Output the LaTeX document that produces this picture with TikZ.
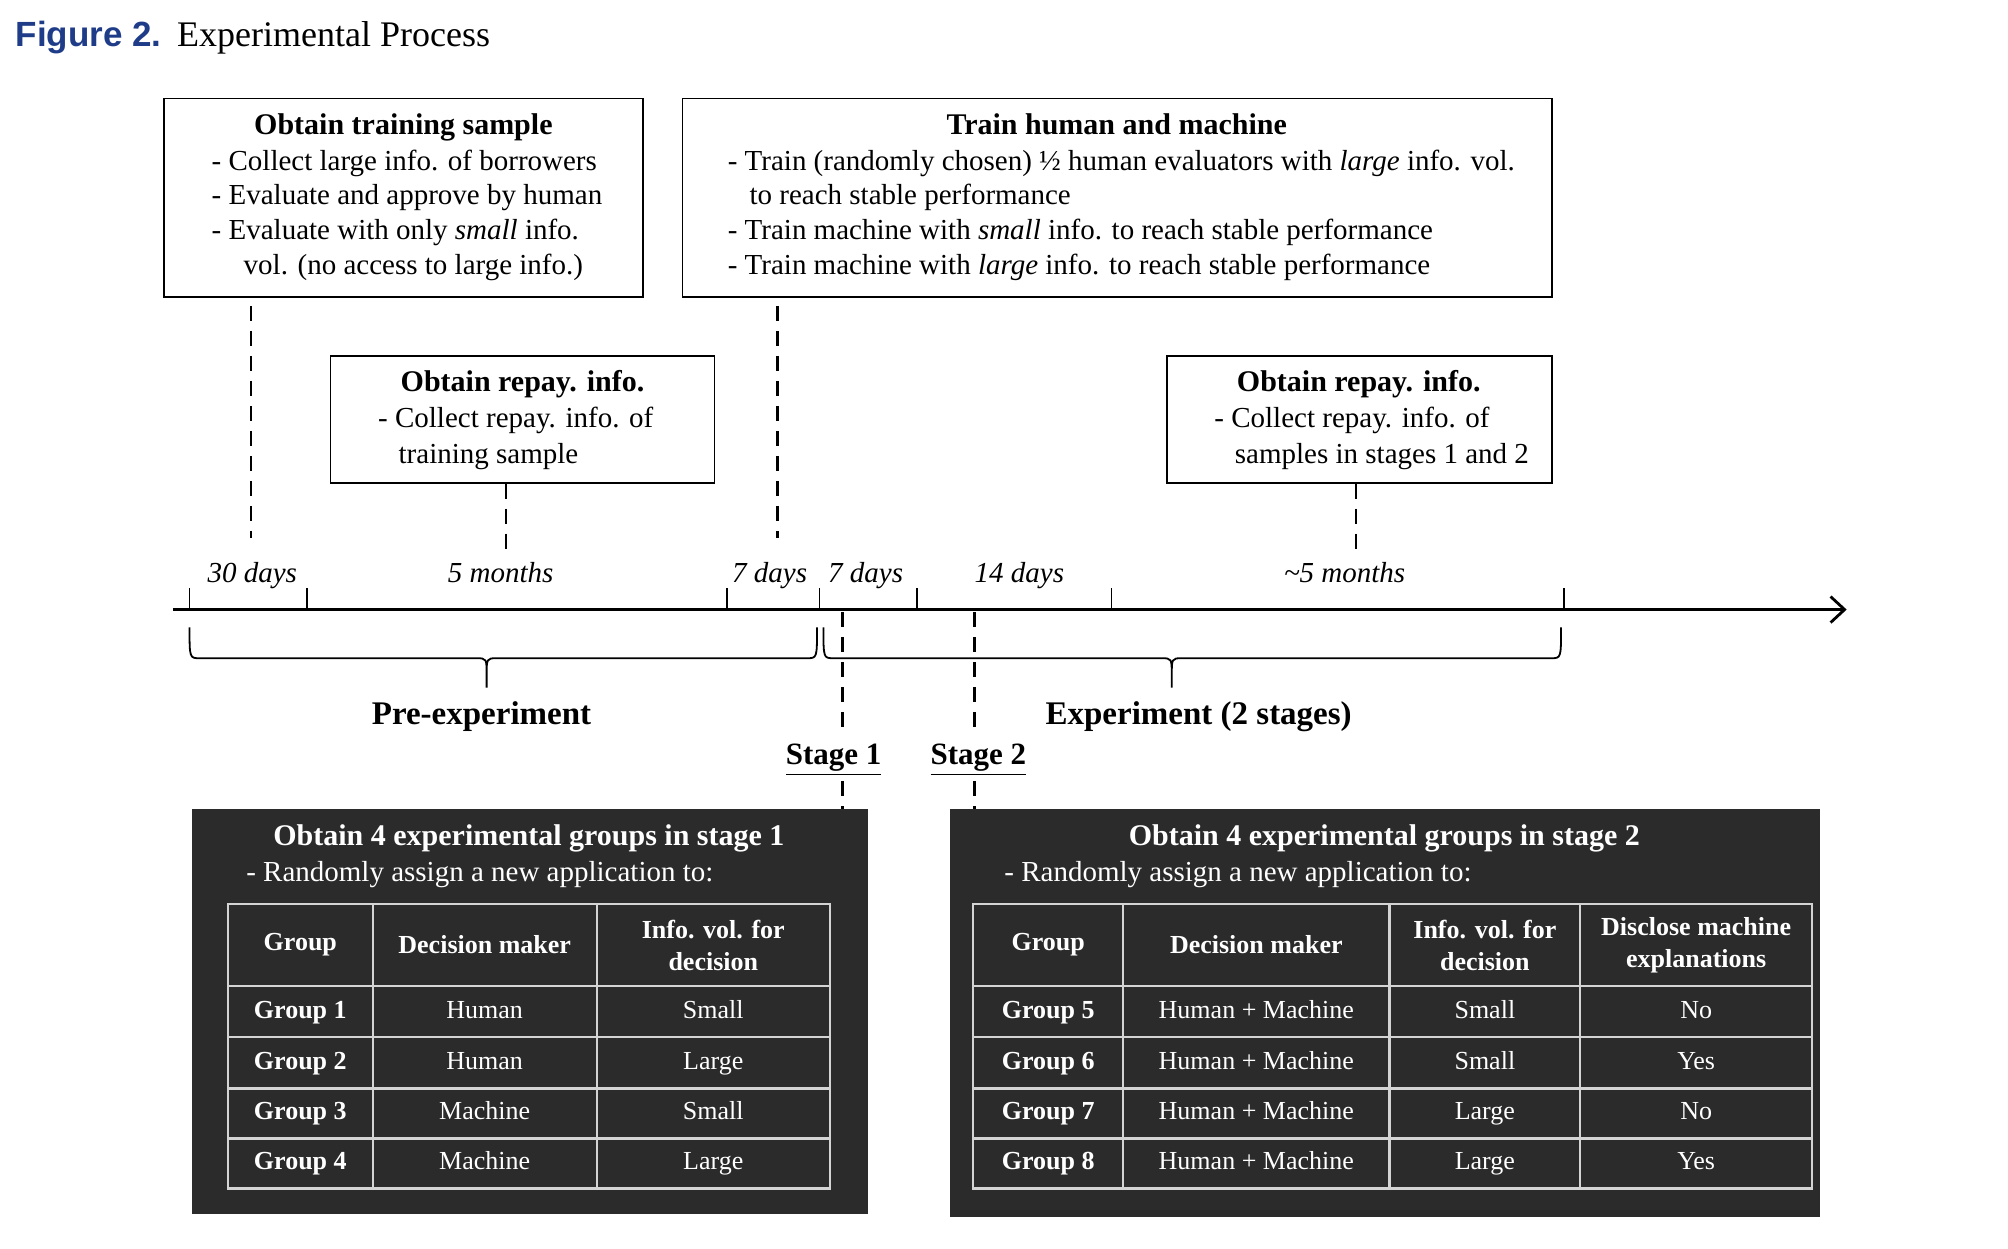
\documentclass[tikz,border=0pt]{standalone}
\usepackage{fontspec}
\setmainfont{Liberation Serif}
\newfontfamily\figsans{Liberation Sans}
\usetikzlibrary{arrows.meta}
\definecolor{figblue}{HTML}{1F3C88}
\definecolor{darkbox}{HTML}{2B2B2B}
\definecolor{gridln}{HTML}{D4D4D4}
\begin{document}
\begin{tikzpicture}[x=0.6403pt,y=-0.6403pt,
  sz/.style 2 args={minimum width=#1*0.6403pt, minimum height=#2*0.6403pt, inner sep=0pt},
  txt/.style={inner sep=0pt, anchor=base west, font=\fontsize{14.5}{17.3}\selectfont},
  ttl/.style={inner sep=0pt, anchor=base, font=\fontsize{15}{17.3}\selectfont\bfseries},
  wbox/.style={draw=black, line width=0.9pt, fill=white},
  vdash/.style={line width=1.2pt, dash pattern=on 7.5pt off 5pt},
  tickln/.style={line width=0.9pt},
  tlab/.style={inner sep=0pt, anchor=base, font=\fontsize{14.5}{17}\selectfont\itshape},
  plab/.style={inner sep=0pt, anchor=base, font=\fontsize{16.5}{19}\selectfont\bfseries},
  stlab/.style={inner sep=0pt, anchor=base, font=\fontsize{15.5}{18}\selectfont\bfseries},
  dbox/.style={fill=darkbox, draw=none},
  gridl/.style={draw=gridln, line width=1.1pt},
  wtxt/.style={txt, text=white},
  wttl/.style={ttl, text=white},
  cell/.style={inner sep=0pt, anchor=base, text=white, font=\fontsize{13}{16}\selectfont},
  bcell/.style={cell, font=\fontsize{13}{16}\selectfont\bfseries},
  hcell/.style={inner sep=0pt, anchor=center, align=center, text=white, font=\fontsize{13}{16}\selectfont\bfseries},
  brc/.style={line width=0.9pt}
]
\useasboundingbox (0,0) rectangle (1568,975);

% heading
\node[inner sep=0pt, anchor=base west, text=figblue, font=\figsans\fontsize{17.5}{20}\selectfont\bfseries] (fig) at (12,36) {Figure 2.};
\node[inner sep=0pt, anchor=base west, font=\fontsize{18}{20}\selectfont] (figt) at (138,36) {Experimental Process};

% boxes
\node[wbox, sz={374}{155}] (b1) at (315,154.5) {};
\node[wbox, sz={679}{155}] (b2) at (872.5,154.5) {};
\node[wbox, sz={300}{99}] (b3) at (408,327.5) {};
\node[wbox, sz={301}{99}] (b4) at (1061.5,327.5) {};

% box 1 text
\node[ttl] (b1t) at (315,105) {Obtain training sample};
\node[txt] (b1a) at (165,133) {- Collect large info. of borrowers};
\node[txt] (b1b) at (165,160) {- Evaluate and approve by human};
\node[txt] (b1c) at (165,187) {- Evaluate with only \textit{small} info.};
\node[txt] (b1d) at (190,214) {vol. (no access to large info.)};

% box 2 text
\node[ttl] (b2t) at (872,105) {Train human and machine};
\node[txt] (b2a) at (568,133) {- Train (randomly chosen) ½ human evaluators with \textit{large} info. vol.};
\node[txt] (b2b) at (585,160) {to reach stable performance};
\node[txt] (b2c) at (568,187) {- Train machine with \textit{small} info. to reach stable performance};
\node[txt] (b2d) at (568,214) {- Train machine with \textit{large} info. to reach stable performance};

% box 3 text
\node[ttl] (b3t) at (408,306) {Obtain repay. info.};
\node[txt] (b3a) at (295,334) {- Collect repay. info. of};
\node[txt] (b3b) at (311,362) {training sample};

% box 4 text
\node[ttl] (b4t) at (1061,306) {Obtain repay. info.};
\node[txt] (b4a) at (948,334) {- Collect repay. info. of};
\node[txt] (b4b) at (964,362) {samples in stages 1 and 2};

% timeline
\coordinate (ax0) at (135,476);
\coordinate (ax1) at (1442,476);
\draw[line width=1.4pt, -{Straight Barb[length=7pt,width=13pt,line width=1.4pt]}] (ax0) -- (ax1);
\foreach \x in {148,240,568,640,716,868,1221}{
  \draw[tickln] (\x,477) -- (\x,459);
}

% dashed connectors to timeline
\coordinate (c1) at (196,420);
\coordinate (c2) at (607,420);
\coordinate (c3) at (395,432);
\coordinate (c4) at (1059,432);
\draw[vdash] ([yshift=-4pt]b1.south -| c1) -- (c1);
\draw[vdash] ([yshift=-4pt]b2.south -| c2) -- (c2);
\draw[vdash] (b3.south -| c3) -- (c3);
\draw[vdash] (b4.south -| c4) -- (c4);

% timeline labels
\node[tlab] (l1) at (197,455) {30 days};
\node[tlab] (l2) at (391,455) {5 months};
\node[tlab] (l3) at (601,455) {7 days};
\node[tlab] (l4) at (676,455) {7 days};
\node[tlab] (l5) at (796,455) {14 days};
\node[tlab] (l6) at (1050,455) {\textasciitilde5 months};

% braces
\draw[brc] (148,490) .. controls (148,514) .. (156,514) -- (372,514)
  .. controls (380,514) .. (380,528) -- (380,537) -- (380,528)
  .. controls (380,514) .. (388,514) -- (630,514) .. controls (638,514) .. (638,490);
\draw[brc] (643,490) .. controls (643,514) .. (651,514) -- (907,514)
  .. controls (915,514) .. (915,528) -- (915,537) -- (915,528)
  .. controls (915,514) .. (923,514) -- (1211,514) .. controls (1219,514) .. (1219,490);
\node[plab] (pre) at (376,566) {Pre-experiment};
\node[plab] (exp) at (936,566) {Experiment (2 stages)};

% dark boxes
\node[dbox, sz={528}{316}] (d1) at (414,790) {};
\node[dbox, sz={679}{318}] (d2) at (1081.5,791) {};

% stage markers
\coordinate (s1a) at (658,478);
\coordinate (s1c) at (658,570);
\coordinate (s1d) at (658,610);
\coordinate (s2a) at (761,478);
\coordinate (s2c) at (761,570);
\coordinate (s2d) at (761,610);
\draw[vdash] (s1a) -- (s1c);
\draw[vdash] (s2a) -- (s2c);
\draw[vdash] (s1d) -- (d1.north -| s1d);
\draw[vdash] (s2d) -- (d2.north -| s2d);
\node[stlab] (st1) at (651,597) {\underline{Stage 1}};
\node[stlab] (st2) at (764,597) {\underline{Stage 2}};

% dark box 1 text
\node[wttl] (d1t) at (413,660) {Obtain 4 experimental groups in stage 1};
\node[wtxt] (d1a) at (192,688) {- Randomly assign a new application to:};

% table 1
\draw[gridl] (178,706) rectangle (648,928);
\foreach \x in {291,466}{ \draw[gridl] (\x,706) -- (\x,928); }
\foreach \y in {770,810,850,889}{ \draw[gridl] (178,\y) -- (648,\y); }
\node[hcell] (t1h1) at (234.5,738) {Group};
\node[hcell] (t1h2) at (378.5,738) {Decision maker};
\node[hcell] (t1h3) at (557,738) {Info. vol. for\\decision};
\node[bcell] (t1r1a) at (234.5,795) {Group 1};
\node[cell] (t1r1b) at (378.5,795) {Human};
\node[cell] (t1r1c) at (557,795) {Small};
\node[bcell] (t1r2a) at (234.5,835) {Group 2};
\node[cell] (t1r2b) at (378.5,835) {Human};
\node[cell] (t1r2c) at (557,835) {Large};
\node[bcell] (t1r3a) at (234.5,874.5) {Group 3};
\node[cell] (t1r3b) at (378.5,874.5) {Machine};
\node[cell] (t1r3c) at (557,874.5) {Small};
\node[bcell] (t1r4a) at (234.5,913.5) {Group 4};
\node[cell] (t1r4b) at (378.5,913.5) {Machine};
\node[cell] (t1r4c) at (557,913.5) {Large};

% dark box 2 text
\node[wttl] (d2t) at (1081,660) {Obtain 4 experimental groups in stage 2};
\node[wtxt] (d2a) at (784,688) {- Randomly assign a new application to:};

% table 2
\draw[gridl] (760,706) rectangle (1415,928);
\foreach \x in {877,1085,1234}{ \draw[gridl] (\x,706) -- (\x,928); }
\foreach \y in {770,810,850,889}{ \draw[gridl] (760,\y) -- (1415,\y); }
\node[hcell] (t2h1) at (818.5,738) {Group};
\node[hcell] (t2h2) at (981,738) {Decision maker};
\node[hcell] (t2h3) at (1159.5,738) {Info. vol. for\\decision};
\node[hcell] (t2h4) at (1324.5,738) {Disclose machine\\explanations};
\node[bcell] (t2r1a) at (818.5,795) {Group 5};
\node[cell] (t2r1b) at (981,795) {Human + Machine};
\node[cell] (t2r1c) at (1159.5,795) {Small};
\node[cell] (t2r1d) at (1324.5,795) {No};
\node[bcell] (t2r2a) at (818.5,835) {Group 6};
\node[cell] (t2r2b) at (981,835) {Human + Machine};
\node[cell] (t2r2c) at (1159.5,835) {Small};
\node[cell] (t2r2d) at (1324.5,835) {Yes};
\node[bcell] (t2r3a) at (818.5,874.5) {Group 7};
\node[cell] (t2r3b) at (981,874.5) {Human + Machine};
\node[cell] (t2r3c) at (1159.5,874.5) {Large};
\node[cell] (t2r3d) at (1324.5,874.5) {No};
\node[bcell] (t2r4a) at (818.5,913.5) {Group 8};
\node[cell] (t2r4b) at (981,913.5) {Human + Machine};
\node[cell] (t2r4c) at (1159.5,913.5) {Large};
\node[cell] (t2r4d) at (1324.5,913.5) {Yes};
\end{tikzpicture}
\end{document}
